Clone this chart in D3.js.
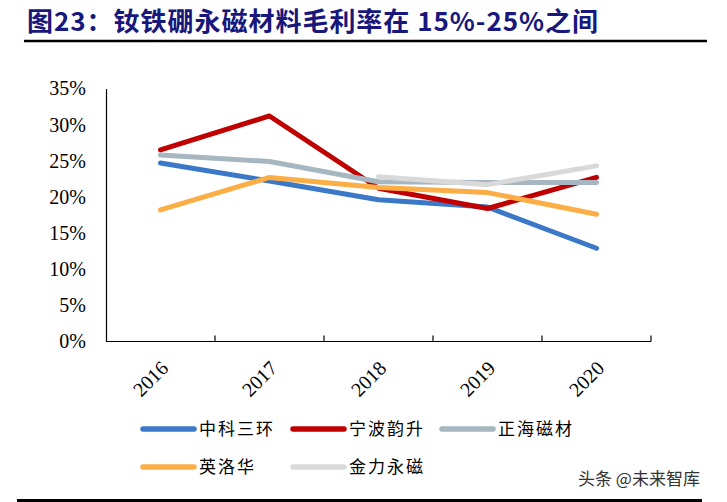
<!DOCTYPE html>
<html lang="zh">
<head>
    <meta charset="UTF-8">
    <title>图23</title>
    <script src="https://d3js.org/d3.v7.min.js"></script>
    <style>
        body { margin: 0; background: #fff; }
        svg { display: block; }
        .series { fill: none; stroke-width: 5px; stroke-linejoin: round; stroke-linecap: round; }
        .tick text { font-family: "Liberation Serif", "Times New Roman", serif; font-size: 20px; fill: #000; }
    </style>
</head>
<body>
<svg width="727" height="502"></svg>
<script>
    let years = ["2016", "2017", "2018", "2019", "2020"];
    let yTicks = [0, 0.05, 0.10, 0.15, 0.20, 0.25, 0.30, 0.35];

    let zhongke = [0.247, 0.222, 0.196, 0.186, 0.129];
    let ningbo = [0.265, 0.312, 0.212, 0.184, 0.227];
    let zhenghai = [0.258, 0.249, 0.221, 0.220, 0.220];
    let yingluohua = [0.182, 0.227, 0.213, 0.206, 0.176];
    let jinli = [null, null, 0.228, 0.217, 0.243];

    let names = ["中科三环", "宁波韵升", "正海磁材", "英洛华", "金力永磁"];
    let colors = ["#3b78c8", "#c00000", "#a7b7c1", "#fcae46", "#d9d9d9"];

    let series = [zhongke, ningbo, zhenghai, yingluohua, jinli].map((vals, i) => ({
        name: names[i], color: colors[i], values: vals
    }));

    let svg = d3.select("svg");

    // title
    svg.append("text")
        .attr("x", 27).attr("y", 31)
        .attr("font-family", "'Noto Sans CJK SC', sans-serif")
        .attr("font-weight", "bold")
        .attr("font-size", 26)
        .attr("fill", "#17177c")
        .attr("textLength", 571)
        .text("图23：钕铁硼永磁材料毛利率在 15%-25%之间");

    svg.append("line")
        .attr("x1", 24).attr("x2", 707)
        .attr("y1", 41).attr("y2", 41)
        .attr("stroke", "#000").attr("stroke-width", 2.5);

    let x = d3.scaleBand().domain(years).range([106, 651]);
    let y = d3.scaleLinear().domain([0, 0.35]).range([341.5, 88.5]);

    // y axis
    let yAxis = svg.append("g")
        .attr("transform", "translate(106,0)")
        .call(d3.axisLeft(y).tickValues(yTicks).tickSize(0).tickPadding(20).tickFormat(d3.format(".0%")));
    yAxis.select(".domain").attr("stroke", "#000").attr("stroke-width", 1.2);

    // x axis
    let xAxis = svg.append("g").attr("transform", "translate(0,341.5)");
    xAxis.append("line")
        .attr("x1", x.range()[0]).attr("x2", x.range()[1])
        .attr("stroke", "#000").attr("stroke-width", 1.2);
    xAxis.selectAll(".sep")
        .data(years.slice(1).map(d => x(d)).concat([x.range()[1]]))
        .join("line")
        .attr("class", "sep")
        .attr("x1", d => d).attr("x2", d => d)
        .attr("y1", 0).attr("y2", -6)
        .attr("stroke", "#000").attr("stroke-width", 1.2);
    xAxis.selectAll(".yl")
        .data(years)
        .join("text")
        .attr("class", "yl")
        .attr("text-anchor", "end")
        .attr("font-family", "'Liberation Serif', 'Times New Roman', serif")
        .attr("font-size", 20)
        .attr("transform", d => `translate(${x(d) + x.bandwidth() / 2 + 9},${28}) rotate(-45)`)
        .text(d => d);

    // lines
    let line = d3.line()
        .defined(d => d != null)
        .x((d, i) => x(years[i]) + x.bandwidth() / 2)
        .y(d => y(d));

    svg.append("g").selectAll("path")
        .data(series)
        .join("path")
        .attr("class", "series")
        .attr("stroke", d => d.color)
        .attr("d", d => line(d.values));

    // legend
    let legendPos = [[143, 429], [293, 429], [442, 429], [143, 467], [293, 467]];
    let legend = svg.append("g").selectAll("g")
        .data(series)
        .join("g")
        .attr("transform", (d, i) => `translate(${legendPos[i][0]},${legendPos[i][1]})`);
    legend.append("line")
        .attr("x1", 0).attr("x2", 51)
        .attr("stroke", d => d.color)
        .attr("stroke-width", 5.5)
        .attr("stroke-linecap", "round");
    legend.append("text")
        .attr("x", 56).attr("y", 6)
        .attr("font-family", "'Noto Sans CJK SC', sans-serif")
        .attr("font-size", 17)
        .attr("letter-spacing", 2)
        .attr("fill", "#000")
        .text(d => d.name);

    // watermark + bottom rule
    svg.append("text")
        .attr("x", 578).attr("y", 485)
        .attr("font-family", "'Noto Sans CJK SC', sans-serif")
        .attr("font-size", 17)
        .attr("fill", "#333")
        .text("头条 @未来智库");

    svg.append("line")
        .attr("x1", 17).attr("x2", 702)
        .attr("y1", 500.5).attr("y2", 500.5)
        .attr("stroke", "#000").attr("stroke-width", 3);
</script>
</body>
</html>
